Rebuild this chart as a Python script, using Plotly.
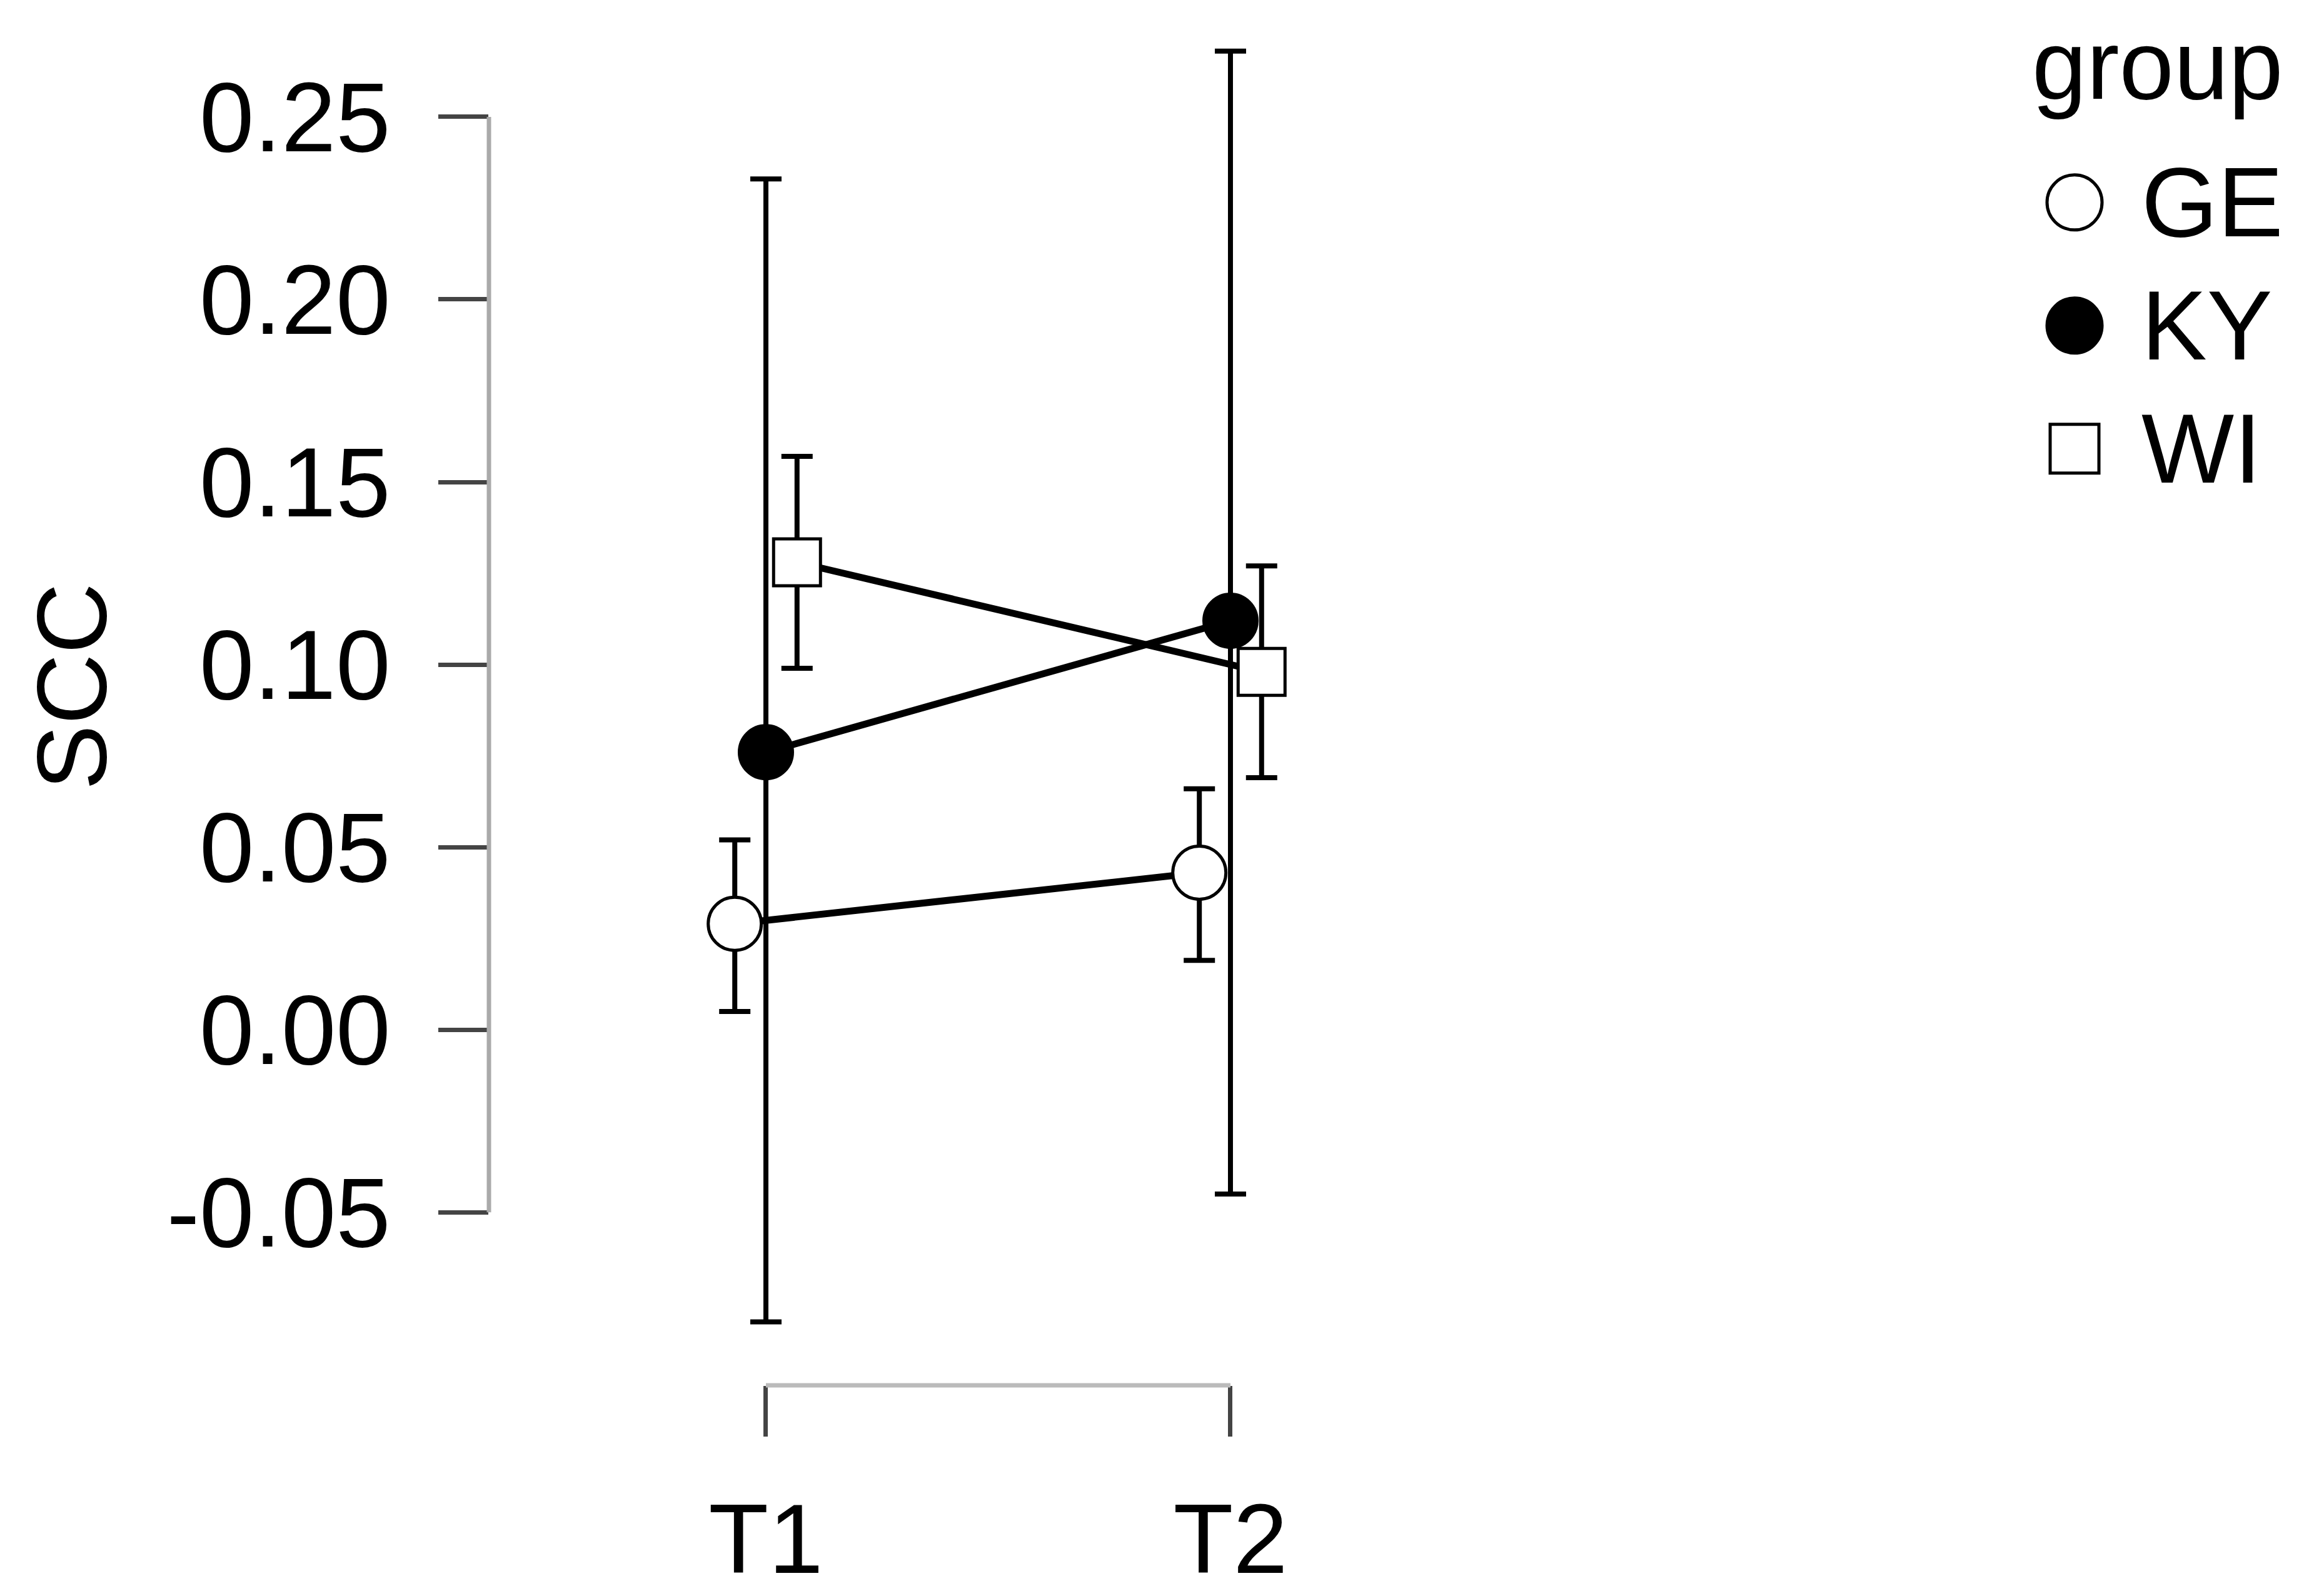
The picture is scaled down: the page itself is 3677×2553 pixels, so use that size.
import numpy as np
import plotly.graph_objects as go

# —— data ——
times = ["T1", "T2"]
groups = ["GE", "KY", "WI"]

ge_mean = [0.029, 0.043]
ge_lower = [0.005, 0.019]
ge_upper = [0.052, 0.066]

ky_mean = [0.076, 0.112]
ky_lower = [-0.080, -0.045]
ky_upper = [0.233, 0.268]

wi_mean = [0.128, 0.098]
wi_lower = [0.099, 0.069]
wi_upper = [0.157, 0.127]

y_tick_vals = [-0.05, 0.00, 0.05, 0.10, 0.15, 0.20, 0.25]
y_tick_text = ["-0.05", "0.00", "0.05", "0.10", "0.15", "0.20", "0.25"]

# —— styles ——
FONT = "Liberation Sans, Arial, sans-serif"
FS = 157
W, H = 3677, 2553
ML, MR, MT, MB = 774, 20, 40, 312

series = {
    "GE": (ge_mean, ge_lower, ge_upper),
    "KY": (ky_mean, ky_lower, ky_upper),
    "WI": (wi_mean, wi_lower, wi_upper),
}
dodge = {"GE": -0.067, "KY": 0.0, "WI": 0.067}
style = {
    "GE": dict(symbol="circle", color="white", size=85),
    "KY": dict(symbol="circle", color="black", size=85),
    "WI": dict(symbol="square", color="white", size=75),
}

xi = np.arange(len(times))
fig = go.Figure()

# connecting lines first so markers sit on top
for g in groups:
    m, lo, hi = series[g]
    fig.add_trace(go.Scatter(
        x=xi + dodge[g], y=m, mode="lines",
        line=dict(color="black", width=11), showlegend=False, hoverinfo="skip"
    ))

for g in groups:
    m, lo, hi = series[g]
    m, lo, hi = np.array(m), np.array(lo), np.array(hi)
    fig.add_trace(go.Scatter(
        x=xi + dodge[g], y=m, mode="markers", name=g, showlegend=False,
        error_y=dict(type="data", symmetric=False, array=hi - m, arrayminus=m - lo,
                     color="black", thickness=8, width=25),
        marker=dict(symbol=style[g]["symbol"], size=style[g]["size"],
                    color=style[g]["color"], line=dict(color="black", width=5)),
        cliponaxis=False
    ))

# —— hand-made legend on a hidden pixel-scaled subplot ——
leg_x0 = 3150
row0, row_gap = 320, 200
for i, g in enumerate(groups):
    fig.add_trace(go.Scatter(
        x=[3310], y=[row0 + i * row_gap], mode="markers", xaxis="x2", yaxis="y2",
        marker=dict(symbol=style[g]["symbol"], size=style[g]["size"] + 3,
                    color=style[g]["color"], line=dict(color="black", width=5)),
        showlegend=False, hoverinfo="skip", cliponaxis=False
    ))

annotations = [
    dict(text=g, xref="x2", yref="y2", x=3415, y=row0 + i * row_gap,
         xanchor="left", yanchor="middle", showarrow=False,
         font=dict(family=FONT, size=FS, color="black"))
    for i, g in enumerate(groups)
]
annotations.append(dict(text="group", xref="x2", yref="y2", x=3240, y=96,
                        xanchor="left", yanchor="middle", showarrow=False,
                        font=dict(family=FONT, size=FS, color="black")))
annotations.append(dict(text="SCC", xref="paper", yref="paper", x=0, xshift=106 - ML,
                        y=(H - MB - 1107) / (H - MB - MT), textangle=-90,
                        xanchor="center", yanchor="middle", showarrow=False,
                        font=dict(family=FONT, size=FS, color="black")))

pw = W - ML - MR
fig.update_layout(
    width=W, height=H,
    margin=dict(l=ML, r=MR, t=MT, b=MB),
    paper_bgcolor="white", plot_bgcolor="white",
    font=dict(family=FONT, size=FS, color="black"),
    showlegend=False,
    xaxis=dict(
        domain=[0, (2400 - ML) / pw], range=[-0.5962, 1.5922],
        tickmode="array", tickvals=list(xi), ticktext=times,
        ticks="outside", ticklen=81, tickwidth=7, tickcolor="#444",
        showline=False, showgrid=False, zeroline=False,
        ticklabelstandoff=30,
        tickfont=dict(family=FONT, size=FS, color="black"),
    ),
    yaxis=dict(
        range=[-0.09739, 0.27378],
        tickmode="array", tickvals=y_tick_vals, ticktext=y_tick_text,
        ticks="outside", ticklen=80, tickwidth=7, tickcolor="#444",
        showline=False, showgrid=False, zeroline=False,
        ticklabelstandoff=45,
        tickfont=dict(family=FONT, size=FS, color="black"),
    ),
    xaxis2=dict(domain=[(leg_x0 - ML) / pw, 1], range=[leg_x0, W - MR],
                visible=False, anchor="y2"),
    yaxis2=dict(domain=[0, 1], range=[H - MB, MT], visible=False, anchor="x2"),
    annotations=annotations,
    shapes=[
        # y axis line spans only the tick range
        dict(type="line", xref="paper", yref="y", x0=0, x1=0,
             y0=y_tick_vals[0], y1=y_tick_vals[-1], line=dict(color="#aaa", width=7)),
        # x axis line spans only T1..T2
        dict(type="line", xref="x", yref="paper", x0=xi[0], x1=xi[-1],
             y0=0, y1=0, line=dict(color="#bbb", width=7)),
    ],
)

fig.write_html("out.html")
